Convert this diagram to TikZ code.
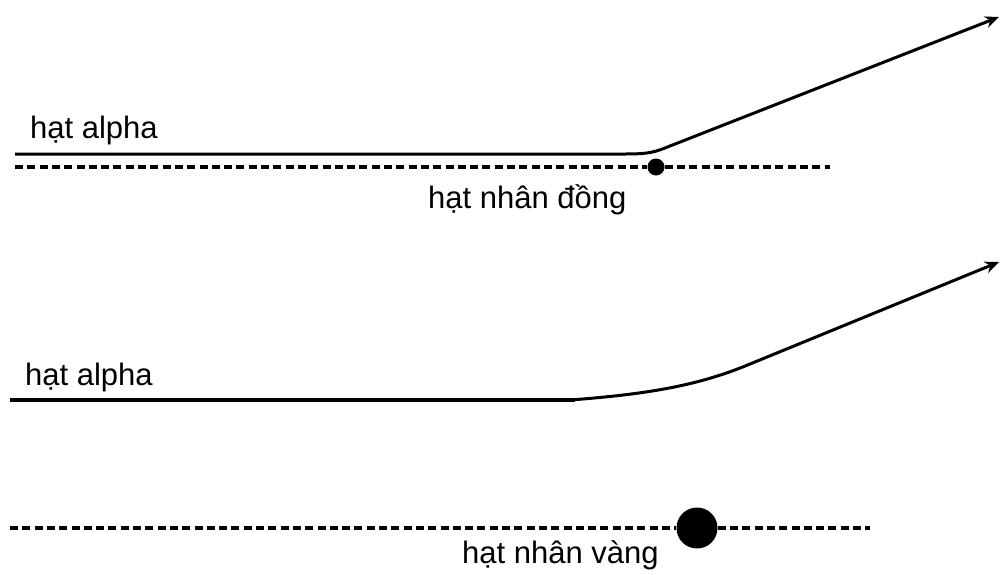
\documentclass[tikz,border=0pt]{standalone}
\usepackage{fontspec}
\setmainfont{Liberation Sans}
\usetikzlibrary{arrows.meta}
\begin{document}
\begin{tikzpicture}[x=1pt,y=-1pt,
  lbl/.style={font=\fontsize{31}{37}\selectfont, inner sep=0pt, anchor=base west},
  track/.style={line width=3pt, -{Stealth[length=14pt,width=12pt]}},
  axis/.style={line width=4pt, dash pattern=on 8pt off 4.3pt},
  nucleus/.style={circle, fill=black, inner sep=0pt}]
\useasboundingbox (0,0) rectangle (1001,574);
% top panel
\coordinate (a1) at (15,154);
\coordinate (b1) at (999,17);
\coordinate (d1s) at (15,167);
\coordinate (d1e) at (830,167);
\node[nucleus, minimum size=17pt] (n1) at (656,167) {};
\node[lbl] (l1) at (30,138) {hạt alpha};
\node[lbl] (m1) at (428,208) {hạt nhân đồng};
\draw[axis] (d1s) -- (n1) -- (d1e);
\draw[track] (a1) -- (625,154) .. controls (650,154) and (655,152) .. (670,146) -- (b1);
% bottom panel
\coordinate (a2) at (10,400);
\coordinate (b2) at (999,262);
\coordinate (d2s) at (10,528);
\coordinate (d2e) at (870,528);
\node[nucleus, minimum size=41pt] (n2) at (697,528) {};
\node[lbl] (l2) at (25,385) {hạt alpha};
\node[lbl] (m2) at (462,563) {hạt nhân vàng};
\draw[axis] (d2s) -- (n2) -- (d2e);
\draw[line width=4pt] (a2) -- (575,400);
\draw[track] (570,400) .. controls (650,394) and (700,385) .. (750,364) -- (b2);
\end{tikzpicture}
\end{document}
